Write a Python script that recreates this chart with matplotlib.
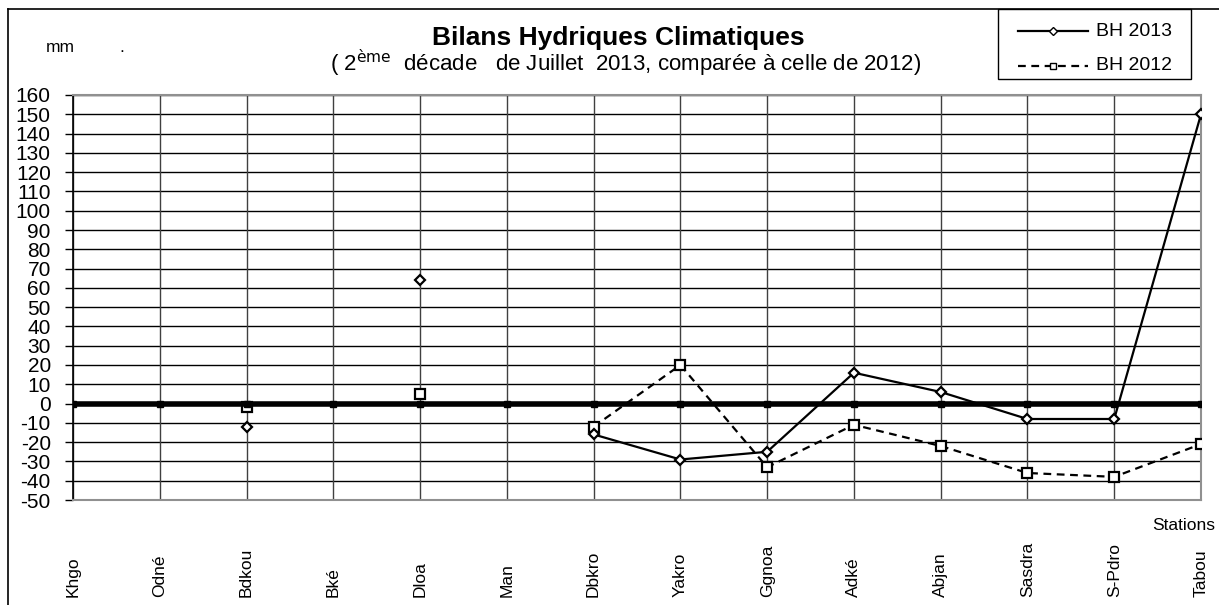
import numpy as np
import matplotlib
matplotlib.use("Agg")
import matplotlib.pyplot as plt
import matplotlib.transforms as mtransforms
from matplotlib.patches import Rectangle
from matplotlib.lines import Line2D

plt.rcParams['font.family'] = ['Liberation Sans', 'DejaVu Sans']

stations = ["Khgo", "Odné", "Bdkou", "Bké", "Dloa", "Man", "Dbkro", "Yakro",
            "Ggnoa", "Adké", "Abjan", "Sasdra", "S-Pdro", "Tabou"]
nan = np.nan
bh_2013 = [nan, nan, -12, nan, 64, nan, -16, -29, -25, 16, 6, -8, -8, 150]
bh_2012 = [nan, nan, -2, nan, 5, nan, -12, 20, -33, -11, -22, -36, -38, -21]
zero_line = [0] * len(stations)
y_ticks = list(range(-50, 161, 10))

x = np.arange(len(stations))

fig = plt.figure(figsize=(12.19, 6.05), dpi=100)
ax = fig.add_axes([73 / 1219, 1 - 500 / 605, (1201 - 73) / 1219, (500 - 95) / 605])

# grid
for yv in y_ticks:
    ax.axhline(yv, color="black", lw=1.0, zorder=1)
for xv in x:
    ax.axvline(xv, color="#404040", lw=1.0, zorder=1)

ax.plot(x, bh_2012, color="black", lw=1.6, ls=(0, (3.5, 2.5)), marker="s", markersize=6.5,
        markerfacecolor="white", markeredgecolor="black", markeredgewidth=1.6, zorder=3)

# zero reference series
ax.plot(x, zero_line, color="black", lw=4, marker="s", markersize=4, zorder=3.5)

ax.plot(x, bh_2013, color="black", lw=1.6, marker="D", markersize=5.5,
        markerfacecolor="white", markeredgecolor="black", markeredgewidth=1.6, zorder=4)

ax.set_xlim(0, 13)
ax.set_ylim(-50, 160)
ax.set_yticks(y_ticks)
ax.set_yticklabels([str(v) for v in y_ticks], fontsize=15)
ax.tick_params(axis="y", length=6, width=1, pad=10, direction="out")
ax.set_xticks([])

for side in ["top", "right", "bottom"]:
    ax.spines[side].set_color("#909090")
    ax.spines[side].set_linewidth(1.5)
ax.spines["left"].set_color("black")
ax.spines["left"].set_linewidth(1.2)

# station labels at the bottom
trans = mtransforms.blended_transform_factory(ax.transData, fig.transFigure)
for xi, name in zip(x, stations):
    ax.text(xi, 1 - 597 / 605, name, transform=trans, rotation=90,
            ha="center", va="bottom", fontsize=12.5, clip_on=False)

fig.text(1215 / 1219, 1 - 525 / 605, "Stations", ha="right", va="center", fontsize=12.5)

# titles
fig.text(618 / 1219, 1 - 38 / 605, "Bilans Hydriques Climatiques", ha="center", va="center",
         fontsize=19, fontweight="bold")
fig.text(626 / 1219, 1 - 63 / 605,
         "( 2$^{\\mathrm{ème}}$  décade   de Juillet  2013, comparée à celle de 2012)",
         ha="center", va="center", fontsize=16)
fig.text(60 / 1219, 1 - 47 / 605, "mm", ha="center", va="center", fontsize=12.5)
fig.text(122 / 1219, 1 - 47 / 605, ".", ha="center", va="center", fontsize=12.5)

# outer frame
fig.add_artist(Line2D([8 / 1219, 8 / 1219], [0, 1 - 9 / 605], transform=fig.transFigure,
                      color="black", lw=1.2))
fig.add_artist(Line2D([8 / 1219, 1], [1 - 9 / 605, 1 - 9 / 605], transform=fig.transFigure,
                      color="black", lw=1.2))

# legend
fig.add_artist(Rectangle((998 / 1219, 1 - 79 / 605), 193 / 1219, 70 / 605,
                         transform=fig.transFigure, fill=False, ec="black", lw=1.0))
fig.add_artist(Line2D([1018 / 1219, 1088 / 1219], [1 - 31 / 605] * 2, transform=fig.transFigure,
                      color="black", lw=1.6))
fig.add_artist(Line2D([1053 / 1219], [1 - 31 / 605], transform=fig.transFigure, marker="D",
                      markersize=4.5, markerfacecolor="white", markeredgecolor="black", lw=0))
fig.add_artist(Line2D([1018 / 1219, 1088 / 1219], [1 - 66 / 605] * 2, transform=fig.transFigure,
                      color="black", lw=1.6, ls=(0, (3.5, 2.5))))
fig.add_artist(Line2D([1053 / 1219], [1 - 66 / 605], transform=fig.transFigure, marker="s",
                      markersize=5, markerfacecolor="white", markeredgecolor="black", lw=0))
fig.text(1096 / 1219, 1 - 31 / 605, "BH 2013", ha="left", va="center", fontsize=14)
fig.text(1096 / 1219, 1 - 66 / 605, "BH 2012", ha="left", va="center", fontsize=14)

fig.savefig("out.png", dpi=100, facecolor="white")
